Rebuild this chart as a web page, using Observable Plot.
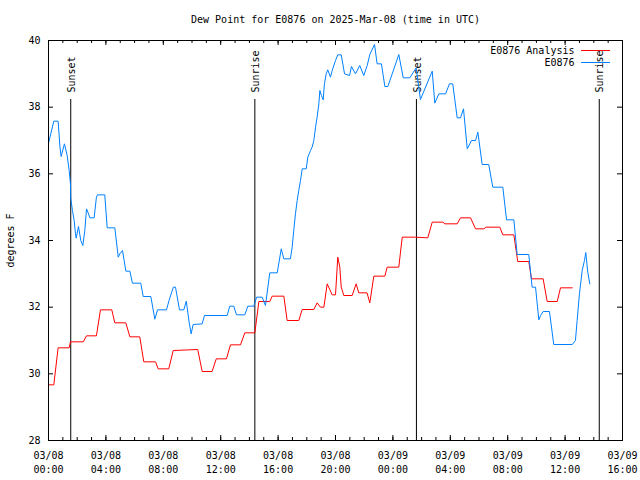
<!DOCTYPE html>
<html>
<head>
<meta charset="utf-8">
<script src="https://cdn.jsdelivr.net/npm/d3@7"></script>
<script src="https://cdn.jsdelivr.net/npm/@observablehq/plot@0.6"></script>
<style>
  html, body { margin: 0; padding: 0; background: #fff; }
</style>
</head>
<body>
<div id="chart"></div>
<script>
// ---- data (hours since 2025-03-08 00:00 UTC) ----
const chartTitle = "Dew Point for E0876 on 2025-Mar-08 (time in UTC)";
const yLabel = "degrees F";
const seriesNames = ["E0876 Analysis", "E0876"];
const seriesColors = ["#ff0000", "#0080ff"];

const obsHours = [0.00,0.37,0.67,0.80,0.88,1.11,1.30,1.44,1.53,1.55,1.67,1.79,1.88,1.93,2.09,2.25,2.39,2.53,2.65,2.79,2.88,3.18,3.34,3.41,3.92,4.09,4.62,4.86,4.97,5.16,5.39,5.67,5.85,6.43,6.60,7.13,7.41,7.60,8.22,8.40,8.70,8.85,9.13,9.43,9.60,9.80,9.94,10.08,10.71,10.87,12.45,12.63,12.91,13.10,13.68,13.89,14.31,14.50,14.66,14.89,15.12,15.42,15.94,16.22,16.40,16.86,16.98,17.09,17.21,17.33,17.44,17.56,17.68,17.96,18.07,18.26,18.37,18.49,18.61,18.72,18.84,18.91,19.02,19.14,19.23,19.35,19.46,19.65,19.77,20.00,20.16,20.40,20.63,20.98,21.11,21.39,21.69,21.97,22.21,22.39,22.72,22.90,23.20,23.44,23.65,24.41,24.72,25.18,25.62,25.92,26.74,26.92,27.20,27.67,27.94,28.17,28.48,28.71,28.92,29.18,29.48,29.76,29.92,30.22,30.68,30.96,31.66,31.92,32.43,32.66,33.47,33.70,33.94,34.17,34.29,34.47,34.91,35.21,36.50,36.72,36.84,37.00,37.19,37.35,37.44,37.58,37.72];
const obsValues = [36.92,37.58,37.58,36.80,36.52,36.90,36.55,36.10,35.70,35.26,34.90,34.60,34.20,34.07,34.42,34.00,33.85,34.30,34.95,34.80,34.68,34.68,35.30,35.37,35.37,34.38,34.38,33.50,33.60,33.70,33.08,33.08,32.72,32.72,32.32,32.32,31.64,31.92,31.92,32.20,32.60,32.60,31.92,31.92,32.18,31.55,31.20,31.48,31.50,31.75,31.75,32.03,32.03,31.77,31.77,32.03,32.03,32.30,32.30,32.30,32.05,33.03,33.03,33.75,33.45,33.45,33.80,34.30,34.80,35.20,35.50,35.80,36.15,36.15,36.50,36.70,36.80,37.00,37.40,37.70,38.10,38.50,38.35,38.22,38.70,39.00,39.12,38.90,39.10,39.40,39.57,39.57,39.00,38.95,39.22,39.00,39.25,38.95,39.25,39.58,39.88,39.30,39.30,38.62,38.62,39.58,38.88,38.88,39.18,38.23,39.08,38.12,38.40,38.40,38.70,38.70,37.68,37.68,37.95,36.75,37.00,37.00,37.25,36.28,36.28,35.60,35.60,34.62,34.62,33.58,33.58,32.60,32.60,31.62,31.75,31.87,31.87,30.88,30.88,31.00,31.60,32.40,33.10,33.40,33.64,33.05,32.70];

const anaHours = [0.00,0.37,0.67,1.44,1.53,2.42,2.65,3.34,3.62,4.41,4.62,5.39,5.67,6.36,6.64,7.46,7.64,8.38,8.69,10.40,10.71,11.40,11.69,12.40,12.68,13.38,13.68,14.38,14.66,15.42,15.59,16.40,16.63,17.44,17.68,18.49,18.72,18.95,19.19,19.42,19.77,20.00,20.16,20.30,20.40,20.58,21.16,21.44,21.62,22.20,22.39,22.67,23.44,23.60,24.41,24.65,25.57,26.43,26.74,27.48,27.62,28.48,28.71,29.41,29.76,30.33,30.50,31.45,31.66,32.43,32.70,33.47,33.66,34.47,34.75,35.45,35.68,36.50];
const anaValues = [29.67,29.67,30.78,30.78,30.96,30.96,31.14,31.14,31.92,31.92,31.53,31.53,31.11,31.11,30.36,30.36,30.15,30.15,30.70,30.73,30.07,30.07,30.45,30.45,30.87,30.87,31.23,31.23,32.17,32.17,32.33,32.33,31.60,31.60,31.93,31.93,32.13,32.00,32.00,32.70,32.37,32.37,33.50,33.20,32.60,32.35,32.35,32.70,32.43,32.43,32.13,32.93,32.93,33.20,33.20,34.10,34.10,34.08,34.55,34.55,34.50,34.50,34.68,34.68,34.35,34.35,34.40,34.40,34.17,34.17,33.37,33.37,32.85,32.85,32.17,32.17,32.58,32.58];

const sunHours = [1.55, 14.38, 25.64, 38.38];
const sunLabels = ["Sunset", "Sunrise", "Sunset", "Sunrise"];

const xTickHours = [0, 4, 8, 12, 16, 20, 24, 28, 32, 36, 40];
const xTickLabels = ["03/08\n00:00","03/08\n04:00","03/08\n08:00","03/08\n12:00","03/08\n16:00","03/08\n20:00","03/09\n00:00","03/09\n04:00","03/09\n08:00","03/09\n12:00","03/09\n16:00"];
const xMinorHours = d3.range(0, 41);
const yTicks = [28, 30, 32, 34, 36, 38, 40];

// ---- build ----
const t0 = Date.UTC(2025, 2, 8, 0, 0);
const toDate = h => new Date(t0 + h * 3600e3);
const obs = obsHours.map((h, i) => ({t: toDate(h), v: obsValues[i]}));
const ana = anaHours.map((h, i) => ({t: toDate(h), v: anaValues[i]}));
const sun = sunHours.map((h, i) => ({t: toDate(h), label: sunLabels[i]}));
const xTicks = xTickHours.map((h, i) => ({t: toDate(h), label: xTickLabels[i]}));
const minor = xMinorHours.map(toDate);

const W = 640, H = 480, mL = 48, mR = 18, mT = 40, mB = 40;
const fw = W - mL - mR, fh = H - mT - mB;
const major = 5, minorLen = 3;

function legendLines(index, scales, values, dims) {
  const g = d3.create("svg:g");
  const xr = dims.width - dims.marginRight - 12;
  const xl = xr - 29;
  [[seriesColors[0], dims.marginTop + 10.5], [seriesColors[1], dims.marginTop + 22.5]].forEach(([c, y]) => {
    g.append("line").attr("x1", xl).attr("x2", xr).attr("y1", y).attr("y2", y)
      .attr("stroke", c).attr("stroke-width", 1);
  });
  return g.node();
}

const chart = Plot.plot({
  width: W, height: H,
  marginLeft: mL, marginRight: mR, marginTop: mT, marginBottom: mB,
  style: {fontFamily: "'DejaVu Sans Mono', monospace", fontSize: "10px", background: "#fff", overflow: "visible"},
  x: {type: "utc", domain: [toDate(0), toDate(40)], axis: null},
  y: {domain: [28, 40], axis: null},
  marks: [
    // sunrise / sunset
    Plot.ruleX(sun, {x: "t", stroke: "#000", strokeWidth: 1, insetTop: 59}),
    Plot.text(sun, {x: "t", text: "label", frameAnchor: "top", rotate: -90, textAnchor: "start", lineAnchor: "middle", dy: 52, dx: 1, fill: "#000"}),
    // data
    Plot.line(ana, {x: "t", y: "v", stroke: seriesColors[0], strokeWidth: 1, curve: "linear"}),
    Plot.line(obs, {x: "t", y: "v", stroke: seriesColors[1], strokeWidth: 1, curve: "linear"}),
    // ticks
    Plot.tickX(minor, {x: d => d, insetBottom: fh - minorLen, stroke: "#000"}),
    Plot.tickX(minor, {x: d => d, insetTop: fh - minorLen, stroke: "#000"}),
    Plot.tickX(xTicks, {x: "t", insetBottom: fh - major, stroke: "#000"}),
    Plot.tickX(xTicks, {x: "t", insetTop: fh - major, stroke: "#000"}),
    Plot.tickY(yTicks, {y: d => d, insetRight: fw - major, stroke: "#000"}),
    Plot.tickY(yTicks, {y: d => d, insetLeft: fw - major, stroke: "#000"}),
    Plot.frame({stroke: "#000", strokeWidth: 1}),
    // axis labels
    Plot.text(yTicks, {y: d => d, text: d => String(d), frameAnchor: "left", textAnchor: "end", dx: -8, fill: "#000"}),
    Plot.text(xTicks, {x: "t", text: "label", frameAnchor: "bottom", textAnchor: "middle", lineAnchor: "top", lineHeight: 1.4, dy: 9, fill: "#000"}),
    Plot.text([yLabel], {text: d => d, frameAnchor: "left", rotate: -90, dx: -38, textAnchor: "middle", lineAnchor: "middle", fill: "#000"}),
    // title
    Plot.text([chartTitle], {text: d => d, frameAnchor: "top", dy: -21, textAnchor: "middle", lineAnchor: "middle", fill: "#000"}),
    // legend
    Plot.text([seriesNames[0]], {text: d => d, frameAnchor: "top-right", dx: -48, dy: 10, textAnchor: "end", lineAnchor: "middle", fill: "#000"}),
    Plot.text([seriesNames[1]], {text: d => d, frameAnchor: "top-right", dx: -48, dy: 22, textAnchor: "end", lineAnchor: "middle", fill: "#000"}),
    legendLines
  ]
});
document.getElementById("chart").appendChild(chart);
</script>
</body>
</html>
